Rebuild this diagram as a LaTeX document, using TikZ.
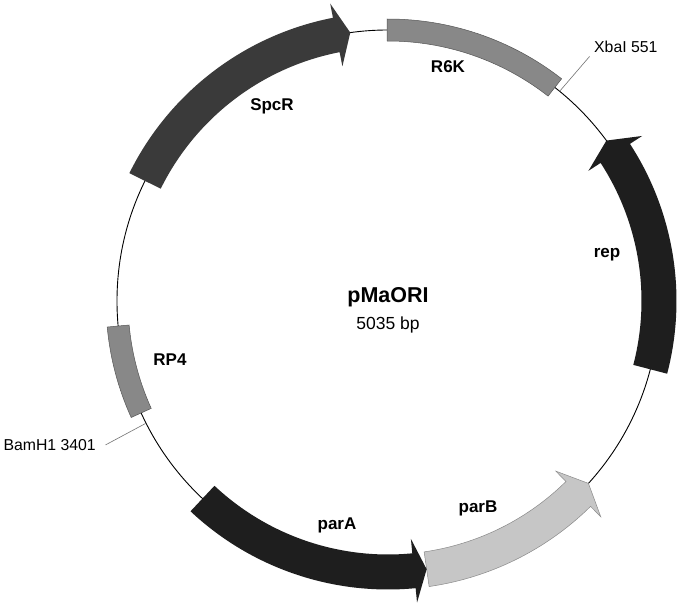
\documentclass[tikz,border=0pt]{standalone}
\usepackage{fontspec}
\setmainfont{Liberation Sans}
\definecolor{spcrcol}{HTML}{3A3A3A}
\definecolor{darkcol}{HTML}{1E1E1E}
\definecolor{midcol}{HTML}{888888}
\definecolor{midedge}{HTML}{555555}
\definecolor{lightcol}{HTML}{C6C6C6}
\definecolor{lightedge}{HTML}{8A8A8A}
\newcommand{\plasarrow}[4]{%
  \path[#1] (#2:253.5) arc[start angle=#2, end angle=#3, radius=253.5]
    -- (#3:239) -- (#4:271) -- (#3:303) -- (#3:288.5)
    arc[start angle=#3, end angle=#2, radius=288.5] -- cycle;}
\newcommand{\plasbox}[3]{%
  \path[#1] (#2:260) arc[start angle=#2, end angle=#3, radius=260]
    -- (#3:282) arc[start angle=#3, end angle=#2, radius=282] -- cycle;}
\tikzset{
  featlbl/.style={font=\fontsize{17}{20}\selectfont\bfseries, inner sep=0pt},
  sitelbl/.style={font=\fontsize{15.8}{18}\selectfont, inner sep=0pt},
  siteline/.style={draw=black!55, line width=0.6pt},
  backbone/.style={draw=black, line width=0.9pt}
}
\begin{document}
\begin{tikzpicture}[x=1pt,y=1pt]
\useasboundingbox[fill=white] (-388,-308) rectangle (292,301);
\draw[backbone] (0,0) circle[radius=271];
% features
\plasarrow{fill=spcrcol}{153.7}{101}{98}
\plasbox{fill=midcol, draw=midedge, line width=0.5pt}{52}{90.2}
\plasarrow{fill=darkcol}{-14.6}{33}{36.3}
\plasbox{fill=midcol, draw=midedge, line width=0.5pt}{185.3}{204.4}
\plasarrow{fill=lightcol, draw=lightedge, line width=0.5pt}{278.2}{314.6}{317.7}
\plasarrow{fill=darkcol}{226.8}{275.5}{278.2}
% sites
\coordinate (xba) at (50.7:271);
\coordinate (xbaend) at (50.5:317);
\node[sitelbl, anchor=south west] (xbalbl) at (206,248) {XbaI 551};
\draw[siteline] (xba) -- (xbaend);
\coordinate (bam) at (206.8:271);
\coordinate (bamend) at (207:317);
\node[sitelbl, anchor=east] (bamlbl) at (-292,-144) {BamH1 3401};
\draw[siteline] (bam) -- (bamend);
% labels
\node[featlbl] (spcr) at (-116,195) {SpcR};
\node[featlbl] (r6k) at (60,234) {R6K};
\node[featlbl] (rep) at (219,46) {rep};
\node[featlbl] (rp4) at (-218,-59) {RP4};
\node[featlbl] (para) at (-51,-224) {parA};
\node[featlbl] (parb) at (90,-207) {parB};
\node[font=\fontsize{21.5}{24}\selectfont\bfseries, inner sep=0pt] (title) at (0,4) {pMaORI};
\node[font=\fontsize{17.5}{20}\selectfont, inner sep=0pt] (size) at (0,-24) {5035 bp};
\end{tikzpicture}
\end{document}
